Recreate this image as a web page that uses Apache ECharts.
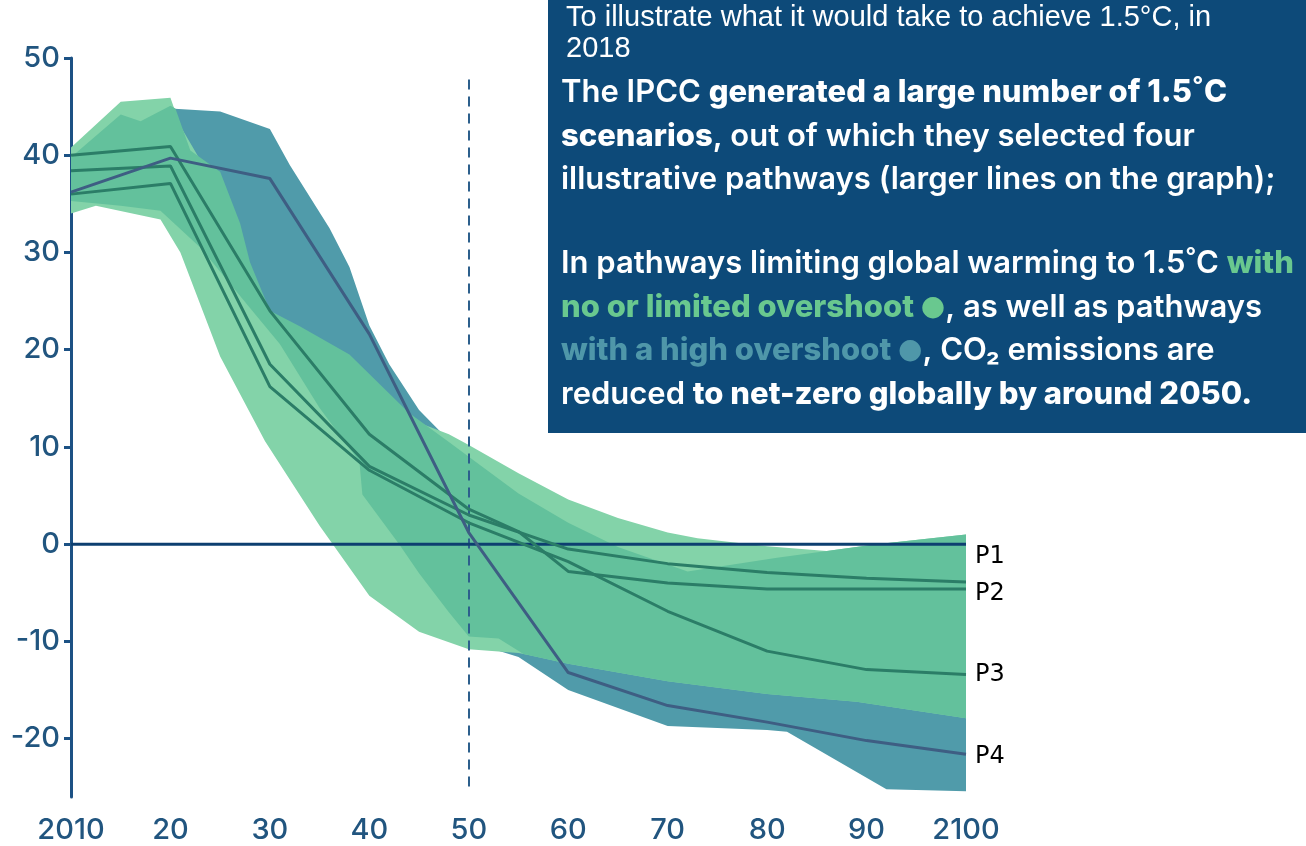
<!DOCTYPE html>
<html>
<head>
<meta charset="utf-8">
<title>1.5°C pathways</title>
<script src="https://cdn.jsdelivr.net/npm/echarts@6/dist/echarts.min.js"></script>
<style>
  html, body { margin: 0; padding: 0; background: #fff; }
  #chart { width: 1306px; height: 846px; }
</style>
</head>
<body>
<div id="chart"></div>
<script>
// ticks
const yTicks = [-20, -10, 0, 10, 20, 30, 40, 50];

// ranges of pathways, [year, GtCO2/yr]
// no or limited overshoot, outer range
const lightUpper = [[2010, 40.8], [2015, 45.5], [2020, 45.9], [2021, 43], [2025, 36], [2030, 22], [2035, 18.5], [2040, 15.5], [2045, 12.5], [2048, 11.3], [2050, 10.2], [2055, 7.3], [2060, 4.6], [2065, 2.7], [2070, 1.2], [2073, 0.6], [2080, -0.2], [2086, -0.7], [2091, 0], [2100, 1.0]];
const lightLower = [[2010, 34], [2012.5, 34.8], [2019, 33.4], [2021, 30], [2025, 19.3], [2029.5, 10.6], [2035, 1.9], [2040, -5.3], [2045, -9], [2050, -10.8], [2055, -11.2], [2056, -11.4], [2060, -12.3], [2070, -14.1], [2080, -15.4], [2089, -16.2], [2100, -17.9]];
// no or limited overshoot, inner range
const midUpper = [[2010, 39.8], [2015, 44.2], [2017, 43.5], [2020, 45.1], [2020.5, 44.8], [2022, 40.5], [2025, 38.3], [2027, 33], [2028, 29], [2030, 24], [2033, 22.4], [2038, 19.5], [2040, 17.5], [2044, 13.5], [2048, 10.5], [2050, 9], [2055, 5.2], [2060, 2.2], [2065, -0.3], [2072, -2.8], [2081, -1.4], [2091, 0], [2100, 1.0]];
const midLower = [[2010, 35.3], [2015, 34.8], [2019, 34.3], [2023, 30.5], [2028, 24.3], [2031, 20.6], [2035, 14], [2039, 8.5], [2039.3, 5.1], [2043, 0], [2045, -3], [2048, -7], [2050, -9.5], [2053, -9.7], [2055.5, -11.3], [2060, -12.3], [2070, -14.1], [2080, -15.4], [2089, -16.2], [2100, -17.9]];
// high overshoot
const highUpper = [[2020, 44.8], [2025, 44.5], [2030, 42.7], [2032, 39], [2036, 32.5], [2038, 28.5], [2040, 22.5], [2042, 18.5], [2045, 13.8], [2047.5, 11.2], [2050, 8], [2060, 0], [2070, -3], [2080, -5], [2090, -7], [2100, -9]];
const highLower = [[2020, 36], [2030, 20], [2040, 5], [2050, -10], [2055, -11.6], [2060, -15], [2070, -18.7], [2080, -19.1], [2082, -19.3], [2092, -25.2], [2100, -25.4]];

// illustrative pathways
const p1 = [[2010, 38.4], [2020, 38.9], [2030, 18.5], [2040, 8.0], [2050, 3.0], [2060, -0.5], [2070, -2.0], [2080, -2.9], [2090, -3.5], [2100, -3.9]];
const p2 = [[2010, 40], [2020, 40.9], [2030, 24], [2040, 11.3], [2050, 3.6], [2055, 1.3], [2060, -2.8], [2070, -4.0], [2080, -4.6], [2090, -4.6], [2100, -4.6]];
const p3 = [[2010, 36], [2020, 37.1], [2030, 16.2], [2040, 7.6], [2050, 2.2], [2060, -1.8], [2070, -6.9], [2080, -11], [2090, -12.9], [2100, -13.4]];
const p4 = [[2010, 36.2], [2020, 39.7], [2030, 37.6], [2040, 21.6], [2050, 1.2], [2060, -13.2], [2070, -16.6], [2080, -18.3], [2090, -20.2], [2100, -21.6]];

const zeroLine = [[2010, 0], [2100, 0]];

function band(upper, lower, color, z) {
  return {
    type: 'custom',
    silent: true,
    z: z,
    data: [0],
    renderItem: function (params, api) {
      const pts = upper.concat(lower.slice().reverse()).map(function (p) { return api.coord(p); });
      return { type: 'polygon', shape: { points: pts }, style: { fill: color } };
    }
  };
}

function pathway(name, data, color, offset) {
  return {
    type: 'line',
    name: name,
    data: data,
    symbol: 'none',
    z: 10,
    lineStyle: { color: color, width: 3 },
    endLabel: {
      show: true,
      formatter: name,
      distance: 9,
      offset: offset,
      color: '#000',
      fontFamily: 'DejaVu Sans',
      fontSize: 24
    }
  };
}

const txt = { fill: '#fff', fontFamily: 'Inter', fontSize: 31, fontWeight: 600, lineHeight: 43.5 };
const bold = Object.assign({}, txt, { fontWeight: 800 });
const dot = { fontFamily: 'DejaVu Sans', fontSize: 28, lineHeight: 43.5 };

const chart = echarts.init(document.getElementById('chart'));

chart.setOption({
  animation: false,
  grid: { left: 71, right: 340, top: 58, bottom: 49 },
  xAxis: {
    type: 'value',
    min: 2010,
    max: 2100,
    interval: 10,
    axisLine: { show: false, onZero: false },
    axisTick: { show: false },
    splitLine: { show: false },
    axisLabel: {
      margin: 19,
      fontSize: 29,
      fontWeight: 500,
      fontFamily: 'Inter',
      color: '#21557f',
      formatter: function (v) { return (v === 2010 || v === 2100) ? String(v) : String(v).slice(2); }
    }
  },
  yAxis: {
    type: 'value',
    min: -26,
    max: 50,
    splitLine: { show: false },
    axisLine: { show: true, lineStyle: { color: '#1c5184', width: 3 } },
    axisTick: { show: true, length: 7, customValues: yTicks, lineStyle: { color: '#1c5184', width: 3 } },
    axisLabel: { customValues: yTicks, margin: 11, fontSize: 29, fontWeight: 500, fontFamily: 'Inter', color: '#21557f' }
  },
  series: [
    {
      type: 'line',
      data: [],
      z: 0,
      markLine: {
        silent: true,
        symbol: 'none',
        label: { show: false },
        lineStyle: { type: [10, 7], color: '#2c5f8c', width: 2 },
        data: [[{ coord: [2050, 47.8] }, { coord: [2050, -25.3] }]]
      }
    },
    band(highUpper, highLower, '#509baa', 1),
    band(lightUpper, lightLower, '#83d3a9', 2),
    band(midUpper, midLower, '#63c19c', 3),
    {
      type: 'line',
      data: zeroLine,
      symbol: 'none',
      z: 8,
      silent: true,
      lineStyle: { color: '#0d3f70', width: 3 }
    },
    pathway('P1', p1, '#2b7d67', [0, -25]),
    pathway('P2', p2, '#2b7d67', [0, 5]),
    pathway('P3', p3, '#2b7d67', [0, 0]),
    pathway('P4', p4, '#3e5e83', [0, 3])
  ],
  graphic: [
    {
      type: 'rect',
      shape: { x: 548, y: 0, width: 758, height: 433 },
      style: { fill: '#0d4a79' },
      z: 20
    },
    {
      type: 'text',
      x: 566, y: 2,
      z: 21,
      style: {
        text: 'To illustrate what it would take to achieve 1.5°C, in\n2018',
        fill: '#fff',
        fontFamily: 'Liberation Sans',
        fontSize: 29,
        lineHeight: 31
      }
    },
    {
      type: 'text',
      x: 561, y: 71,
      z: 21,
      style: {
        text: '{n|The IPCC }{b|generated a large number of 1.5˚C}\n{b|scenarios}{n|, out of which they selected four}\n{n|illustrative pathways (larger lines on the graph);}',
        fill: '#fff',
        rich: { n: txt, b: bold }
      }
    },
    {
      type: 'text',
      x: 561, y: 242,
      z: 21,
      style: {
        text: '{n|In pathways limiting global warming to 1.5˚C }{g|with}\n{g|no or limited overshoot }{gd|●}{n|, as well as pathways}\n{t|with a high overshoot }{td|●}{n|, CO₂ emissions are}\n{n|reduced }{b|to net-zero globally by around 2050.}',
        fill: '#fff',
        rich: {
          n: txt,
          b: bold,
          g: Object.assign({}, bold, { fill: '#69c88f' }),
          gd: Object.assign({}, dot, { fill: '#69c88f' }),
          t: Object.assign({}, bold, { fill: '#4f97a9' }),
          td: Object.assign({}, dot, { fill: '#4f97a9' })
        }
      }
    }
  ]
});
</script>
</body>
</html>
